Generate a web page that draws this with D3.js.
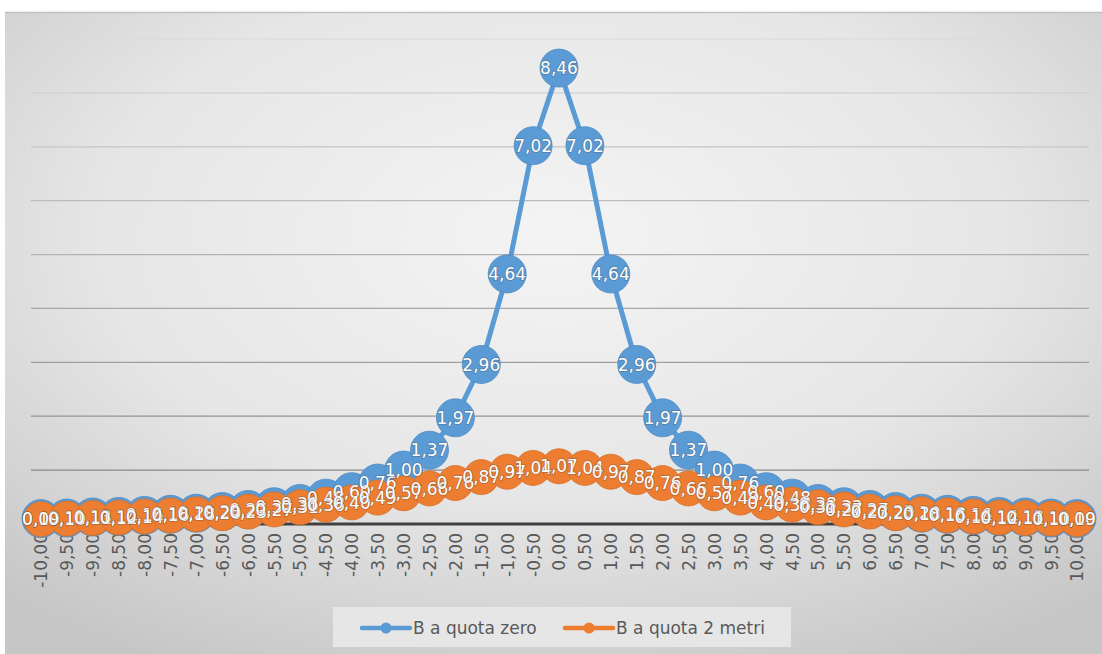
<!DOCTYPE html>
<html>
<head>
<meta charset="utf-8">
<script src="https://cdnjs.cloudflare.com/ajax/libs/d3/7.8.5/d3.min.js"></script>
<style>
  body { margin: 0; background: #ffffff; }
  svg { display: block; }
</style>
</head>
<body>
<div id="chart"></div>
<script>
// distances (m) along the x axis
var distances = [-10, -9.5, -9, -8.5, -8, -7.5, -7, -6.5, -6, -5.5, -5, -4.5, -4, -3.5, -3, -2.5, -2, -1.5, -1, -0.5,
  0, 0.5, 1, 1.5, 2, 2.5, 3, 3.5, 4, 4.5, 5, 5.5, 6, 6.5, 7, 7.5, 8, 8.5, 9, 9.5, 10];

// B a quota zero
var bZero = [0.10, 0.11, 0.13, 0.14, 0.16, 0.18, 0.20, 0.23, 0.27, 0.32, 0.38, 0.48, 0.60, 0.76, 1.00, 1.37, 1.97, 2.96, 4.64, 7.02,
  8.46, 7.02, 4.64, 2.96, 1.97, 1.37, 1.00, 0.76, 0.60, 0.48, 0.38, 0.32, 0.27, 0.23, 0.20, 0.18, 0.16, 0.14, 0.13, 0.11, 0.10];

// B a quota 2 metri
var bTwo = [0.09, 0.10, 0.11, 0.12, 0.14, 0.16, 0.18, 0.20, 0.23, 0.27, 0.31, 0.36, 0.40, 0.49, 0.57, 0.66, 0.76, 0.87, 0.97, 1.04,
  1.07, 1.04, 0.97, 0.87, 0.76, 0.66, 0.57, 0.49, 0.40, 0.36, 0.31, 0.27, 0.23, 0.20, 0.18, 0.16, 0.14, 0.12, 0.11, 0.10, 0.09];

var seriesNames = ["B a quota zero", "B a quota 2 metri"];
var seriesColors = ["#5b9bd5", "#ed7d31"];
var seriesStrokes = ["#4f8cc4", "#d7702a"];
var markerRadius = [19, 17.5];
var gridValues = [1, 2, 3, 4, 5, 6, 7, 8, 9];

var width = 1102, height = 654;
var fmt = function(v) { return v.toFixed(2).replace(".", ","); };

var svg = d3.select("#chart")
  .append("svg")
    .attr("width", width)
    .attr("height", height);

// background gradient of the chart area
var defs = svg.append("defs");
var grad = defs.append("radialGradient")
  .attr("id", "bg")
  .attr("cx", "50%").attr("cy", "35%").attr("r", "75%");
grad.append("stop").attr("offset", "0%").attr("stop-color", "#f4f4f4");
grad.append("stop").attr("offset", "55%").attr("stop-color", "#e6e6e6");
grad.append("stop").attr("offset", "100%").attr("stop-color", "#c6c6c6");

svg.append("rect")
  .attr("x", 5).attr("y", 12)
  .attr("width", width - 5).attr("height", height - 12)
  .attr("fill", "url(#bg)");
svg.append("line")
  .attr("x1", 5).attr("x2", width)
  .attr("y1", 12.5).attr("y2", 12.5)
  .attr("stroke", "#c0c0c0").attr("stroke-width", 1.5);

// scales
var x = d3.scalePoint()
  .domain(distances)
  .range([41, 1077]);

var y = d3.scaleLinear()
  .domain([0, 9])
  .range([524, 39]);

// gridlines, darker towards the bottom
var gridColor = d3.scaleLinear().domain([9, 1]).range(["#dadada", "#8a8a8a"]);
svg.append("g")
  .selectAll("line")
  .data(gridValues)
  .enter()
  .append("line")
    .attr("x1", 31).attr("x2", 1089)
    .attr("y1", function(d) { return y(d); })
    .attr("y2", function(d) { return y(d); })
    .attr("stroke", function(d) { return gridColor(d); })
    .attr("stroke-width", 1.2);

// category axis
var xAxis = svg.append("g")
  .attr("transform", "translate(0," + y(0) + ")")
  .call(d3.axisBottom(x).tickSize(0).tickFormat(fmt));
xAxis.select(".domain").remove();
xAxis.append("line")
  .attr("x1", 31).attr("x2", 1089)
  .attr("stroke", "#404040").attr("stroke-width", 3);
xAxis.selectAll("text")
  .attr("transform", "rotate(-90)")
  .attr("x", -9).attr("y", 0).attr("dy", "0.35em")
  .style("text-anchor", "end")
  .style("font-family", "DejaVu Sans, sans-serif")
  .style("font-size", "17px")
  .style("fill", "#595959");

var allSeries = [bZero, bTwo];
var line = d3.line()
  .x(function(d, i) { return x(distances[i]); })
  .y(function(d) { return y(d); });

// lines and markers, series one first
allSeries.forEach(function(values, s) {
  var g = svg.append("g");
  g.append("path")
    .datum(values)
    .attr("d", line)
    .attr("fill", "none")
    .attr("stroke", seriesColors[s])
    .attr("stroke-width", 5)
    .attr("stroke-linejoin", "round");
  g.selectAll("circle")
    .data(values)
    .enter()
    .append("circle")
      .attr("cx", function(d, i) { return x(distances[i]); })
      .attr("cy", function(d) { return y(d); })
      .attr("r", markerRadius[s])
      .attr("fill", seriesColors[s])
      .attr("stroke", seriesStrokes[s])
      .attr("stroke-width", 0.8);
});

// data labels sit on top of everything
allSeries.forEach(function(values, s) {
  svg.append("g")
    .selectAll("text")
    .data(values)
    .enter()
    .append("text")
      .attr("x", function(d, i) { return x(distances[i]); })
      .attr("y", function(d) { return y(d); })
      .attr("dy", "0.36em")
      .text(function(d) { return fmt(d); })
      .style("text-anchor", "middle")
      .style("font-family", "DejaVu Sans, sans-serif")
      .style("font-size", "17px")
      .style("fill", "#ffffff")
      .style("stroke", "rgba(70,70,70,0.35)")
      .style("stroke-width", 1.6)
      .style("paint-order", "stroke");
});

// legend
var legend = svg.append("g");
legend.append("rect")
  .attr("x", 333).attr("y", 607)
  .attr("width", 458).attr("height", 40)
  .attr("fill", "#e6e6e6");
var legendX = [362, 565];
seriesNames.forEach(function(name, s) {
  legend.append("line")
    .attr("x1", legendX[s]).attr("x2", legendX[s] + 48)
    .attr("y1", 628).attr("y2", 628)
    .attr("stroke", seriesColors[s]).attr("stroke-width", 4.5)
    .attr("stroke-linecap", "round");
  legend.append("circle")
    .attr("cx", legendX[s] + 24).attr("cy", 628).attr("r", 5.5)
    .attr("fill", seriesColors[s]);
  legend.append("text")
    .attr("x", legendX[s] + 51).attr("y", 628)
    .attr("dy", "0.36em")
    .text(name)
    .style("font-family", "DejaVu Sans, sans-serif")
    .style("font-size", "17px")
    .style("fill", "#595959");
});
</script>
</body>
</html>
